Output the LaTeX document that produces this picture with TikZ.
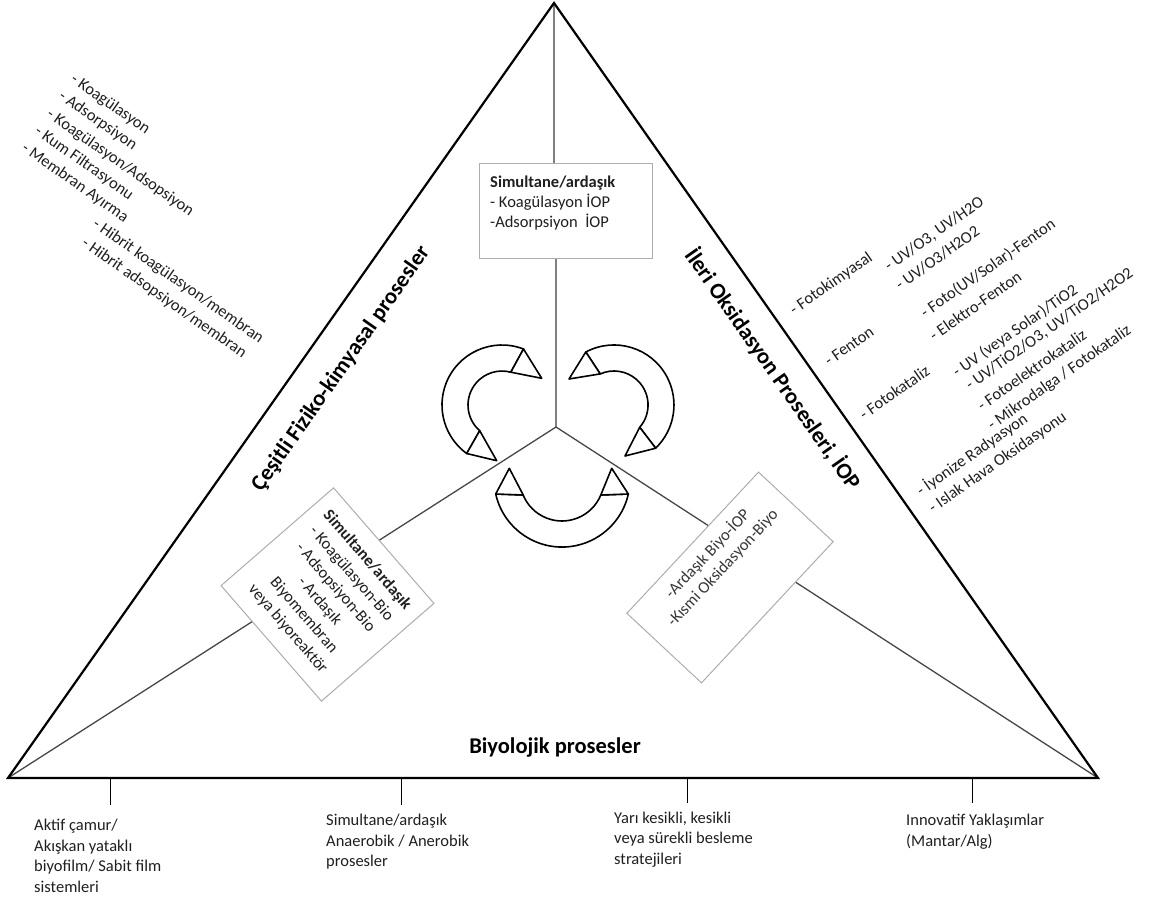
\documentclass[tikz,border=0pt]{standalone}
\usepackage{fontspec}
\setmainfont{Carlito}
\begin{document}
\begin{tikzpicture}[x=1pt,y=-1pt,
  tri/.style={line width=2.2pt, line join=miter},
  spoke/.style={line width=1.3pt, draw=black!72},
  vspoke/.style={line width=1.3pt, draw=black!50},
  gbox/.style={draw=black!32, line width=1pt, fill=white},
  sm/.style={font=\fontsize{16.5}{20.5}\selectfont, text=black!88, inner sep=0pt},
  big/.style={font=\fontsize{22.5}{27}\selectfont\bfseries, inner sep=0pt},
  listL/.style={sm, anchor=west, rotate=-35, text height=12pt, text depth=4pt},
  listR/.style={sm, anchor=west, rotate=35, text height=12pt, text depth=4pt},
  blk/.style={line width=1.6pt, fill=white, line join=round},
  tickln/.style={line width=1pt},
  btm/.style={sm, align=left, anchor=north west}]
\useasboundingbox (0,0) rectangle (1149,904);

% main points
\coordinate (apex) at (554,3);
\coordinate (BL) at (8,778);
\coordinate (BR) at (1098,778);
\coordinate (ctr) at (556,427);

% top box (drawn first as reference for the spoke)
\node[gbox, minimum width=173pt, minimum height=95pt, inner sep=0pt] (topbox) at (565.5,211.5) {};

% spokes
\draw[vspoke] (apex) -- (apex |- topbox.north);
\draw[vspoke] (ctr |- topbox.south) -- (ctr);
\draw[spoke] (ctr) -- (BL);
\draw[spoke] (ctr) -- (BR);

% redraw top box over spoke
\node[gbox, minimum width=173pt, minimum height=95pt, inner sep=0pt] (topbox2) at (topbox) {};
\node[sm, anchor=north west, align=left, font=\fontsize{16.5}{20}\selectfont] (toptext) at (490,176)
  {\textbf{Simultane/ardaşık}\\- Koagülasyon İOP\\-Adsorpsiyon\ \ İOP};

% triangle
\draw[tri] (apex) -- (BR) -- (BL) -- cycle;

% left box
\node[gbox, rotate=-49, minimum width=153pt, minimum height=149pt, inner sep=0pt,
      align=center, font=\fontsize{16.5}{21}\selectfont, text=black!88] (lbox) at (327.5,594.5)
  {\textbf{Simultane/ardaşık}\\- Koagülasyon-Bio\\- Adsopsiyon-Bio\\- Ardaşık\\Biyomembran\\veya biyoreaktör};

% right box
\node[gbox, rotate=47, minimum width=193pt, minimum height=102pt, inner sep=0pt] (rbox) at (730,577.5) {};
\node[sm, rotate=47, anchor=north, align=center, text=black!78] (rtext) at (701.4,548)
  {-Ardaşık Biyo-İOP\\-Kısmi Oksidasyon-Biyo};

% curved arrows
% left
\draw[blk] (523.5,349.0) arc[start angle=69, end angle=234, radius=60pt]
  -- (479.7,430.7) arc[start angle=229, end angle=75, radius=34pt] -- cycle;
\draw[blk] (523.5,349.0) -- (510.8,372.2) -- (541.7,378.3) -- cycle;
\draw[blk] (466.7,453.5) -- (479.7,430.7) -- (496.7,460.7) -- cycle;
% right
\draw[blk] (585.8,352.0) arc[start angle=118, end angle=-46, radius=60pt]
  -- (639.7,427.3) arc[start angle=-41, end angle=114, radius=34pt] -- cycle;
\draw[blk] (585.8,352.0) -- (600.2,373.9) -- (569,379) -- cycle;
\draw[blk] (655.7,448.2) -- (639.7,427.3) -- (625,456) -- cycle;
% bottom
\draw[blk] (495.7,494) arc[start angle=192.7, end angle=347.3, radius=68pt]
  -- (600.8,495) arc[start angle=337.6, end angle=202.4, radius=42pt] -- cycle;
\draw[blk] (495.7,494) -- (523.2,495) -- (509.3,468.3) -- cycle;
\draw[blk] (600.8,495) -- (628.3,494) -- (611.7,468.3) -- cycle;

% big labels
\node[big, rotate=55] (fk) at (341,369) {Çeşitli Fiziko-kimyasal prosesler};
\node[big, rotate=-55] (iop) at (773,369) {İleri Oksidasyon Prosesleri, İOP};
\node[big] (bio) at (555,748) {Biyolojik prosesler};

% top-left list
\node[listL] (l1) at (72,78) {- Koagülasyon};
\node[listL] (l2) at (60,95) {- Adsorpsiyon};
\node[listL] (l3) at (48,113) {- Koagülasyon/Adsopsiyon};
\node[listL] (l4) at (36,130) {- Kum Filtrasyonu};
\node[listL] (l5) at (23,147) {- Membran Ayırma};
\node[listL] (l6) at (94,223) {- Hibrit koagülasyon/membran};
\node[listL] (l7) at (83,242) {- Hibrit adsopsiyon/membran};

% right list
\node[listR] (r1) at (792,312) {- Fotokimyasal};
\node[listR] (r2) at (887,268) {- UV/O3, UV/H2O};
\node[listR] (r3) at (898,287) {- UV/O3/H2O2};
\node[listR] (r4) at (827,363) {- Fenton};
\node[listR] (r5) at (923,315) {- Foto(UV/Solar)-Fenton};
\node[listR] (r6) at (932,338) {- Elektro-Fenton};
\node[listR] (r7) at (862,417) {- Fotokataliz};
\node[listR] (r8) at (955,374) {- UV (veya Solar)/TiO2};
\node[listR] (r9) at (968,387) {- UV/TiO2/O3, UV/TiO2/H2O2};
\node[listR] (r10) at (980,408) {- Fotoelektrokataliz};
\node[listR] (r11) at (990,427) {- Mikrodalga / Fotokataliz};
\node[listR] (r12) at (919,493) {- İyonize Radyasyon};
\node[listR] (r13) at (931,510) {- Islak Hava Oksidasyonu};

% bottom ticks
\coordinate (t1) at (110,778); \coordinate (t1e) at (110,805);
\coordinate (t2) at (401,778); \coordinate (t2e) at (401,805);
\coordinate (t3) at (687,778); \coordinate (t3e) at (687,803);
\coordinate (t4) at (972,778); \coordinate (t4e) at (972,803);
\draw[tickln] (t1) -- (t1e);
\draw[tickln] (t2) -- (t2e);
\draw[tickln] (t3) -- (t3e);
\draw[tickln] (t4) -- (t4e);

% bottom labels
\node[btm] (b1) at (34,819) {Aktif çamur/\\Akışkan yataklı\\biyofilm/ Sabit film\\sistemleri};
\node[btm] (b2) at (326,814) {Simultane/ardaşık\\Anaerobik / Anerobik\\prosesler};
\node[btm] (b3) at (614,811.5) {Yarı kesikli, kesikli\\veya sürekli besleme\\stratejileri};
\node[btm] (b4) at (906,814) {Innovatif Yaklaşımlar\\(Mantar/Alg)};
\end{tikzpicture}
\end{document}
